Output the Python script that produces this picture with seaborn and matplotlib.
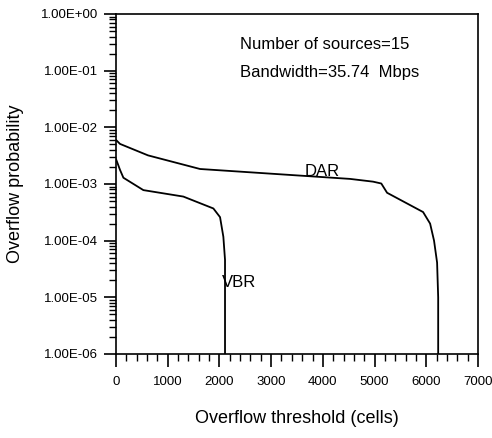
import numpy as np
import pandas as pd
import matplotlib
matplotlib.use("Agg")
import matplotlib.pyplot as plt
import matplotlib.ticker as mticker
import seaborn as sns

# ---- data ----
dar_x = [0, 77, 619, 1625, 4526, 4971, 5130, 5242, 5938, 6074, 6150, 6209, 6230, 6230]
dar_y = [6.0e-3, 5.1e-3, 3.2e-3, 1.84e-3, 1.23e-3, 1.1e-3, 1.02e-3, 7.0e-4, 3.2e-4, 2.0e-4, 1.0e-4, 4.1e-5, 1.0e-5, 1.0e-6]
vbr_x = [0, 40, 77, 143, 529, 1302, 1883, 2012, 2076, 2108, 2108]
vbr_y = [2.75e-3, 2.2e-3, 1.78e-3, 1.29e-3, 7.8e-4, 6.0e-4, 3.7e-4, 2.6e-4, 1.17e-4, 4.6e-5, 1.0e-6]

x_ticks = [0, 1000, 2000, 3000, 4000, 5000, 6000, 7000]
y_ticks = [1e-6, 1e-5, 1e-4, 1e-3, 1e-2, 1e-1, 1e0]
y_tick_labels = ["1.00E-06", "1.00E-05", "1.00E-04", "1.00E-03", "1.00E-02", "1.00E-01", "1.00E+00"]

df = pd.concat([
    pd.DataFrame({"x": dar_x, "y": dar_y, "series": "DAR", "order": range(len(dar_x))}),
    pd.DataFrame({"x": vbr_x, "y": vbr_y, "series": "VBR", "order": range(len(vbr_x))}),
])

sns.set_style("ticks")
plt.rcParams["font.family"] = ["Liberation Sans", "DejaVu Sans"]
plt.rcParams["text.color"] = "black"
plt.rcParams["axes.labelcolor"] = "black"

fig = plt.figure(figsize=(4.92, 4.38), dpi=100)
ax = fig.add_axes([116 / 492, 1 - 354 / 438, (478 - 116) / 492, (354 - 14) / 438])

sns.lineplot(data=df, x="x", y="y", units="series", estimator=None, sort=False,
             color="black", linewidth=1.3, ax=ax, legend=False)

ax.set_yscale("log")
ax.set_xlim(0, 7000)
ax.set_ylim(1e-6, 1e0)

ax.set_xticks(x_ticks)
ax.set_xticklabels([str(v) for v in x_ticks])
ax.xaxis.set_minor_locator(mticker.MultipleLocator(200))
ax.set_yticks(y_ticks)
ax.set_yticklabels(y_tick_labels)
ax.yaxis.set_minor_locator(mticker.LogLocator(base=10, subs=np.arange(2, 10), numticks=20))
ax.yaxis.set_minor_formatter(mticker.NullFormatter())

for s in ax.spines.values():
    s.set_color("black")
    s.set_linewidth(1.2)

ax.tick_params(axis="both", which="major", direction="out", length=9, width=1.2,
               labelsize=9.5, colors="black", labelcolor="black", pad=4)
ax.tick_params(axis="both", which="minor", direction="out", length=5, width=1.0, colors="black")
ax.tick_params(axis="x", which="major", pad=7)

ax.set_xlabel("Overflow threshold (cells)", fontsize=13, labelpad=16, color="black")
ax.set_ylabel("Overflow probability", fontsize=13, labelpad=12, color="black")

ax.text(2398, 0.284, "Number of sources=15", fontsize=12, va="center", ha="left", color="black")
ax.text(2398, 0.091, "Bandwidth=35.74  Mbps", fontsize=12, va="center", ha="left", color="black")
ax.text(3656, 1.63e-3, "DAR", fontsize=12, va="center", ha="left", color="black")
ax.text(2050, 1.8e-5, "VBR", fontsize=12, va="center", ha="left", color="black")

fig.savefig("out.png", dpi=100)
